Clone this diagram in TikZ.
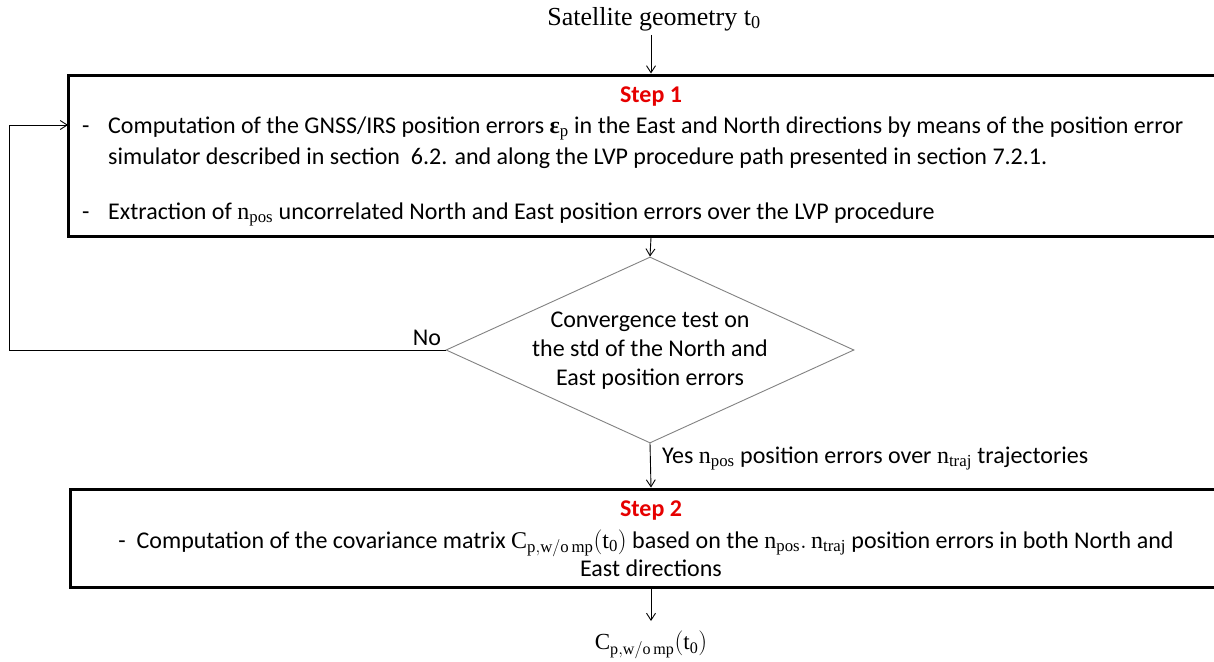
\documentclass[tikz,border=0pt]{standalone}
\usepackage{amsmath}
\usepackage{fontspec}
\setmainfont{Carlito}
\setmathrm{Liberation Serif}
\newfontfamily\serifcam{Liberation Serif}
\usetikzlibrary{arrows.meta,shapes.geometric}
\definecolor{stepred}{RGB}{230,0,0}
\definecolor{diagray}{RGB}{130,130,130}
\begin{document}
\begin{tikzpicture}[x=1pt,y=-1pt,
  txt/.style={font=\fontsize{24}{29}\selectfont, inner sep=0pt},
  steptitle/.style={inner sep=0pt, text=stepred, font=\fontsize{24}{28}\selectfont\bfseries},
  box/.style={draw=black, line width=3pt, inner sep=0pt},
  conn/.style={draw=black, line width=0.9pt, -{Straight Barb[length=7pt,width=9pt]}},
]
\useasboundingbox (0,0) rectangle (1214,661);
\fill[white] (0,0) rectangle (1214,661);

% top input
\node[inner sep=0pt, font=\serifcam\fontsize{26}{30}\selectfont] (sat) at (654,19) {Satellite geometry $\mathrm{t}_{\mathrm{0}}$};

% Step 1 box
\node[box, minimum width=1166pt, minimum height=161pt] (b1) at (651,155.5) {};
\node[steptitle] (s1) at (651,97) {Step 1};
\node[txt, anchor=base west] (d1) at (82,133) {-};
\node[txt, anchor=base west] (l1) at (108,133) {Computation of the GNSS/IRS position errors {\serifcam\bfseries ε}$_{\mathrm{p}}$ in the East and North directions by means of the position error};
\node[txt, anchor=base west] (l2) at (108,164) {simulator described in section\ \ 6.2. and along the LVP procedure path presented in section 7.2.1.};
\node[txt, anchor=base west] (d3) at (82,219) {-};
\node[txt, anchor=base west] (l3) at (108,219) {Extraction of $\mathrm{n}_{\mathrm{pos}}$ uncorrelated North and East position errors over the LVP procedure};

% decision
\node[draw=diagray, line width=0.9pt, shape=diamond, minimum width=408pt, minimum height=186pt, inner sep=0pt] (dec) at (650,350) {};
\node[txt, align=center] (dect) at (650,351) {Convergence test on\\the std of the North and\\East position errors};
\node[txt, anchor=base] (no) at (427,345) {No};

% Step 2 box
\node[box, minimum width=1162pt, minimum height=98pt] (b2) at (651,538) {};
\node[steptitle] (s2) at (651,511) {Step 2};
\node[txt, anchor=base] (m1) at (646,548) {-\ \ Computation of the covariance matrix $\mathrm{C}_{\mathrm{p,w/o\,mp}}(\mathrm{t}_{\mathrm{0}})$ based on the $\mathrm{n}_{\mathrm{pos}}.\,\mathrm{n}_{\mathrm{traj}}$ position errors in both North and};
\node[txt, anchor=base] (m2) at (651,576) {East directions};

\node[txt, anchor=base west] (yes) at (662,463) {Yes $\mathrm{n}_{\mathrm{pos}}$ position errors over $\mathrm{n}_{\mathrm{traj}}$ trajectories};

% output
\node[inner sep=0pt, font=\fontsize{23}{27}\selectfont] (cp) at (651,645) {$\mathrm{C}_{\mathrm{p,w/o\,mp}}(\mathrm{t}_{\mathrm{0}})$};

% connectors
\coordinate (satout) at (651,35);
\coordinate (loopc) at (9,350);
\coordinate (b1in) at (68,125);
\coordinate (cpin) at (651,621);
\draw[conn] (satout) -- (b1.north);
\draw[conn] (b1.south) -- (dec.north);
\draw[conn] (dec.south) -- (b2.north);
\draw[conn] (b2.south) -- (cpin);
\draw[conn] (dec.west) -- (loopc) |- (b1in);
\end{tikzpicture}
\end{document}
